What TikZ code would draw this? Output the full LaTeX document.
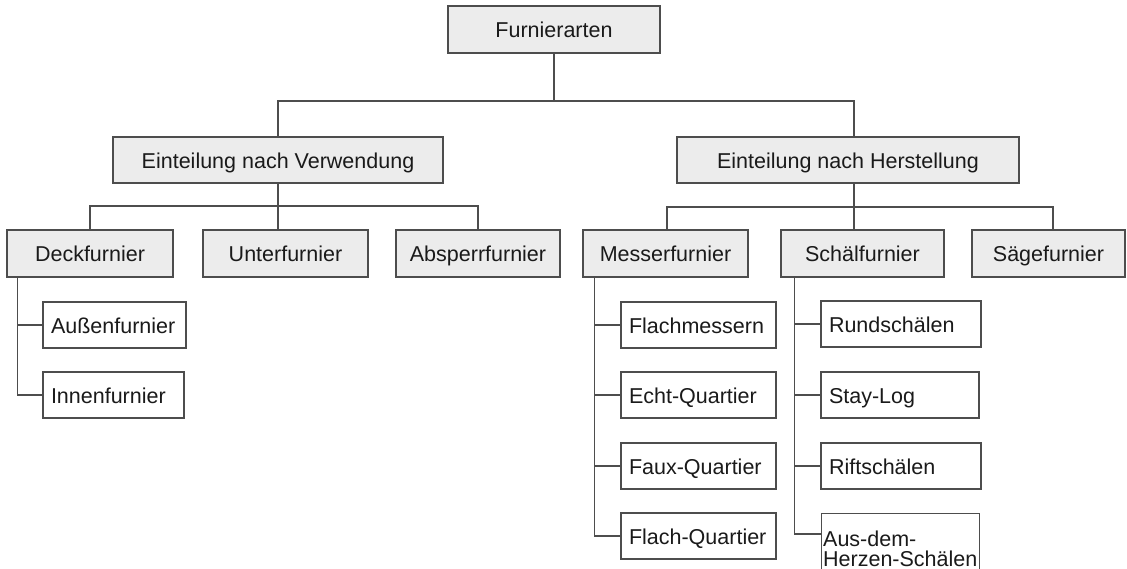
\documentclass[tikz,border=0pt]{standalone}
\usepackage{fontspec}
\setmainfont{Liberation Sans}
\usetikzlibrary{calc}
\definecolor{linec}{HTML}{4D4D4D}
\definecolor{boxfill}{HTML}{ECECEC}
\definecolor{textc}{HTML}{1A1A1A}
\tikzset{
  base/.style={draw=linec, line width=1.3pt, inner sep=0pt, text=textc,
    font=\fontsize{21.5}{20}\selectfont},
  hbox/.style={base, fill=boxfill, align=center, text height=16.4pt, text depth=0pt},
  leafbox/.style={base, fill=white, inner xsep=8pt, text width=#1,
    align=left, minimum height=46pt, text height=16.4pt, text depth=0pt},
  conn/.style={draw=linec, line width=1.3pt}
}
\begin{document}
\begin{tikzpicture}[x=1pt,y=-1pt]
\useasboundingbox (0,0) rectangle (1127,569);
\clip (0,0) rectangle (1127,569);
% top levels
\node[hbox, minimum width=212pt, minimum height=47pt] (F) at (554,29.5) {Furnierarten};
\node[hbox, minimum width=330pt, minimum height=46pt] (V) at (278,160) {Einteilung nach Verwendung};
\node[hbox, minimum width=342pt, minimum height=46pt] (H) at (848,160) {Einteilung nach Herstellung};
% second level
\node[hbox, minimum width=166pt, minimum height=47pt] (Deck) at (90,253.5) {Deckfurnier};
\node[hbox, minimum width=165pt, minimum height=47pt] (Unter) at (285.5,253.5) {Unterfurnier};
\node[hbox, minimum width=164pt, minimum height=47pt] (Abs) at (478,253.5) {Absperrfurnier};
\node[hbox, minimum width=165pt, minimum height=47pt] (Mes) at (665.5,253.5) {Messerfurnier};
\node[hbox, minimum width=163pt, minimum height=47pt] (Schael) at (862.5,253.5) {Schälfurnier};
\node[hbox, minimum width=153pt, minimum height=47pt] (Saege) at (1048.5,253.5) {Sägefurnier};
% leaves
\node[leafbox=127pt] (Aussen) at (114.5,325) {Außenfurnier};
\node[leafbox=125pt] (Innen) at (113.5,395) {Innenfurnier};
\node[leafbox=139pt] (FM) at (698.5,325) {Flachmessern};
\node[leafbox=139pt] (EQ) at (698.5,395) {Echt-Quartier};
\node[leafbox=139pt] (FQ) at (698.5,466) {Faux-Quartier};
\node[leafbox=139pt] (FlQ) at (698.5,536) {\mbox{Flach-Quartier}};
\node[leafbox=144pt] (Rund) at (901,324) {Rundschälen};
\node[leafbox=142pt] (Stay) at (900,395) {Stay-Log};
\node[leafbox=144pt] (Rift) at (901,466) {Riftschälen};
\node[base, fill=white, inner xsep=1.5pt, text width=155pt, align=left,
      minimum height=70pt, anchor=north west] (Aus) at (821,513) {Aus-dem-\\\mbox{Herzen-Schälen}};
% connectors top
\coordinate (b0) at (554,101);
\coordinate (hj) at (854,101);
\draw[conn] (F.south) -- (b0);
\draw[conn] (V.north) |- (hj) -- (hj |- H.north);
% left group
\coordinate (vj) at (278,206);
\draw[conn] (V.south) -- (vj);
\draw[conn] (Deck.north) |- (vj) -| (Abs.north);
\draw[conn] (vj) -- (vj |- Unter.north);
% right group
\coordinate (hb) at (854,207);
\draw[conn] (hj |- H.south) -- (hb);
\draw[conn] ([xshift=1.5pt]Mes.north) |- (hb) -| ([xshift=4.5pt]Saege.north);
\draw[conn] (hb) -- (hb |- Schael.north);
% Deck children
\draw[conn] ([xshift=11pt]Deck.south west) |- (Aussen.west);
\draw[conn] ([xshift=11pt]Deck.south west) |- (Innen.west);
% Messer children
\draw[conn] ([xshift=12pt]Mes.south west) |- (FM.west);
\draw[conn] ([xshift=12pt]Mes.south west) |- (EQ.west);
\draw[conn] ([xshift=12pt]Mes.south west) |- (FQ.west);
\draw[conn] ([xshift=12pt]Mes.south west) |- (FlQ.west);
% Schael children
\draw[conn] ([xshift=14pt]Schael.south west) |- (Rund.west);
\draw[conn] ([xshift=14pt]Schael.south west) |- (Stay.west);
\draw[conn] ([xshift=14pt]Schael.south west) |- (Rift.west);
\draw[conn] ([xshift=14pt]Schael.south west) |- ([yshift=-21pt]Aus.north west);
\end{tikzpicture}
\end{document}
